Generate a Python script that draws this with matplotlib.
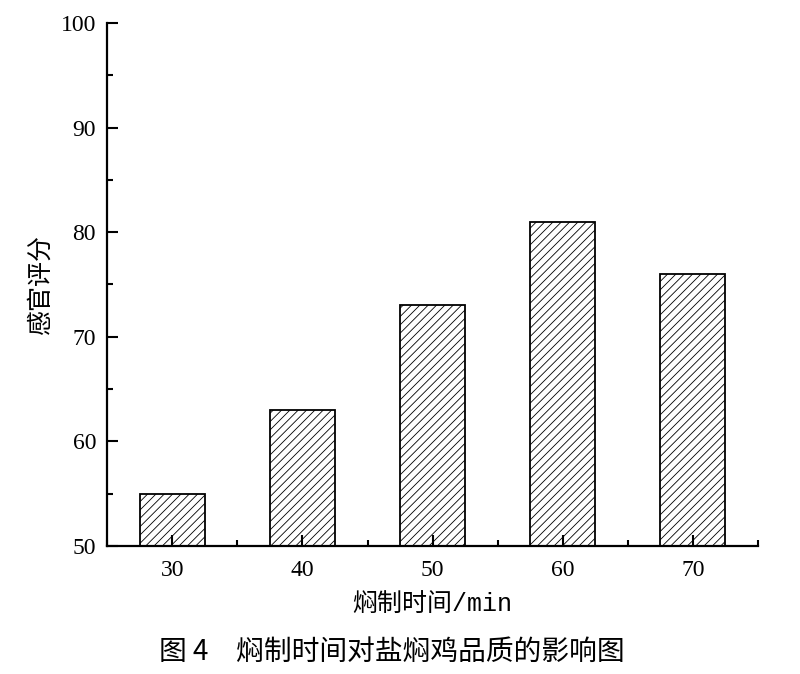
import matplotlib
matplotlib.use('Agg')
import matplotlib.pyplot as plt
from matplotlib.ticker import MultipleLocator

# data
times = [30, 40, 50, 60, 70]
scores = [55, 63, 73, 81, 76]
xlabel = '焖制时间/min'
ylabel = '感官评分'
caption = '图 4\u3000焖制时间对盐焖鸡品质的影响图'

plt.rcParams['font.family'] = ['Liberation Serif', 'Noto Sans CJK SC']
plt.rcParams['hatch.linewidth'] = 0.6
plt.rcParams['hatch.color'] = '#555555'

fig = plt.figure(figsize=(8, 6.74), dpi=100)
ax = fig.add_axes([0.134, 0.19, 0.8135, 0.776])

ax.bar(times, [s - 50 for s in scores], bottom=50, width=5, color='white',
       edgecolor='black', linewidth=1.3, hatch='////')

ax.set_xlim(25, 75)
ax.set_ylim(50, 100)
ax.set_xticks(times)
ax.set_yticks([50, 60, 70, 80, 90, 100])
ax.xaxis.set_minor_locator(MultipleLocator(5))
ax.yaxis.set_minor_locator(MultipleLocator(5))
ax.tick_params(which='both', direction='in', width=1.5, labelsize=17)
ax.tick_params(axis='x', pad=10)
ax.tick_params(axis='y', pad=8)
ax.tick_params(which='major', length=8)
ax.tick_params(which='minor', length=4)

for side in ['top', 'right']:
    ax.spines[side].set_visible(False)
for side in ['left', 'bottom']:
    ax.spines[side].set_linewidth(1.6)

ax.set_xlabel(xlabel, fontsize=18, labelpad=9,
              family=['Liberation Mono', 'Noto Sans CJK SC'])
ax.set_ylabel(ylabel, fontsize=18, labelpad=5, family=['Noto Sans CJK SC'],
              fontweight='light')

fig.text(0.49, 0.033, caption, ha='center', va='center', fontsize=20,
         family=['Noto Sans CJK SC'], fontweight='medium')

plt.savefig('out.png', dpi=100)
